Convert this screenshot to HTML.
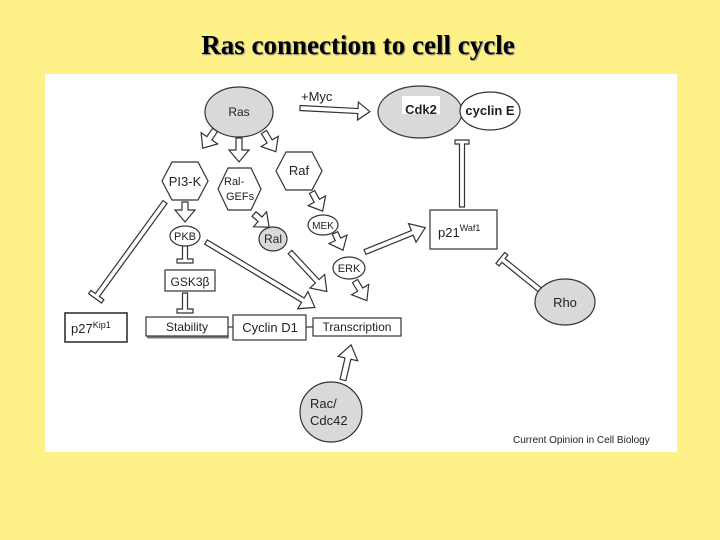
<!DOCTYPE html>
<html><head><meta charset="utf-8"><style>
html,body{margin:0;padding:0;background:#fdf188;}
body{width:720px;height:540px;position:relative;overflow:hidden;font-family:"Liberation Sans",sans-serif;}
h1{position:absolute;left:0;width:716px;top:30px;margin:0;text-align:center;font:bold 27px "Liberation Serif",serif;color:#000;text-shadow:1px 1px 1px #888;}
svg{position:absolute;left:0;top:0;}
text{font-family:"Liberation Sans",sans-serif;fill:#222;}
</style></head><body>
<h1>Ras connection to cell cycle</h1>
<svg width="720" height="540" viewBox="0 0 720 540">
<defs>
<path id="ar" d="M0,-2.5 L-12,-2.5" />
</defs>
<rect x="45" y="74" width="632" height="378" fill="#fff"/>
<g fill="#fff" stroke="#333" stroke-width="1.2">
<!-- arrows: shaft from 0 to L-12, head to L -->
<g transform="translate(300,108) rotate(3)"><path d="M0,-2.5H58V-9L70,0L58,9V2.5H0Z"/></g>
<g transform="translate(215,130) rotate(124)"><path d="M0,-3H10V-10L22,0L10,10V3H0Z"/></g>
<g transform="translate(239,138) rotate(90)"><path d="M0,-3H12V-10L24,0L12,10V3H0Z"/></g>
<g transform="translate(264,132) rotate(59)"><path d="M0,-3H11V-10L23,0L11,10V3H0Z"/></g>
<g transform="translate(185,202) rotate(90)"><path d="M0,-3H8V-10L20,0L8,10V3H0Z"/></g>
<g transform="translate(254,214) rotate(41)"><path d="M0,-3H8V-10L20,0L8,10V3H0Z"/></g>
<g transform="translate(312,192) rotate(61)"><path d="M0,-3H10V-10L22,0L10,10V3H0Z"/></g>
<g transform="translate(335,233) rotate(65)"><path d="M0,-3H7V-10L19,0L7,10V3H0Z"/></g>
<g transform="translate(206,242) rotate(31)"><path d="M0,-2.5H113V-10L127,0L113,10V2.5H0Z"/></g>
<g transform="translate(290,252) rotate(47)"><path d="M0,-2.5H40V-10L54,0L40,10V2.5H0Z"/></g>
<g transform="translate(355,281) rotate(59)"><path d="M0,-3H10V-10L23,0L10,10V3H0Z"/></g>
<g transform="translate(365,252) rotate(-22)"><path d="M0,-2.5H51V-10L65,0L51,10V2.5H0Z"/></g>
<g transform="translate(343,380) rotate(-77)"><path d="M0,-3H22V-10L36,0L22,10V3H0Z"/></g>
<!-- inhibitions -->
<g transform="translate(165,202) rotate(126)"><path d="M0,-2.5H115V-8H119V8H115V2.5H0Z"/></g>
<g transform="translate(185,245) rotate(90)"><path d="M0,-2.5H14V-8H18V8H14V2.5H0Z"/></g>
<g transform="translate(185,293) rotate(90)"><path d="M0,-2.5H16V-8H20V8H16V2.5H0Z"/></g>
<g transform="translate(462,207) rotate(-90)"><path d="M0,-2.5H63V-7H67V7H63V2.5H0Z"/></g>
<g transform="translate(540,290) rotate(-141)"><path d="M0,-2.5H47V-7H51V7H47V2.5H0Z"/></g>
</g>
<g stroke="#333" stroke-width="1.2">
<ellipse cx="239" cy="112" rx="34" ry="25" fill="#d9d9d9"/>
<ellipse cx="420" cy="112" rx="42" ry="26" fill="#d9d9d9"/>
<ellipse cx="490" cy="111" rx="30" ry="19" fill="#fff"/>
<polygon points="162,181 172,162 198,162 208,181 198,200 172,200" fill="#fff"/>
<polygon points="218,189 228,168 251,168 261,189 251,210 228,210" fill="#fff"/>
<polygon points="276,171 286,152 312,152 322,171 312,190 286,190" fill="#fff"/>
<ellipse cx="185" cy="236" rx="15" ry="10" fill="#fff"/>
<ellipse cx="273" cy="239" rx="14" ry="12" fill="#d9d9d9"/>
<ellipse cx="323" cy="225" rx="15" ry="10" fill="#fff"/>
<ellipse cx="349" cy="268" rx="16" ry="11" fill="#fff"/>
<rect x="165" y="270" width="50" height="21" fill="#fff"/>
<rect x="65" y="313" width="62" height="29" fill="#fff" stroke-width="1.6"/>
<rect x="146" y="317" width="82" height="19" fill="#fff"/>
<rect x="233" y="315" width="73" height="25" fill="#fff"/>
<rect x="313" y="318" width="88" height="18" fill="#fff"/>
<line x1="228" y1="327" x2="233" y2="327"/><line x1="306" y1="327" x2="313" y2="327"/>
<rect x="430" y="210" width="67" height="39" fill="#fff"/>
<ellipse cx="565" cy="302" rx="30" ry="23" fill="#d9d9d9"/>
<ellipse cx="331" cy="412" rx="31" ry="30" fill="#d9d9d9"/>
</g>
<line x1="147" y1="337.5" x2="229" y2="337.5" stroke="#777" stroke-width="2"/>
<rect x="402" y="96" width="38" height="18" fill="#fff"/>
<g font-size="13">
<text x="301" y="101">+Myc</text>
<text x="239" y="116" text-anchor="middle" font-size="12">Ras</text>
<text x="421" y="110" text-anchor="middle" font-weight="bold" font-size="13" dy="4">Cdk2</text>
<text x="490" y="115" text-anchor="middle" font-weight="bold">cyclin E</text>
<text x="185" y="186" text-anchor="middle">PI3-K</text>
<text x="224" y="185" font-size="11">Ral-</text>
<text x="226" y="200" font-size="11">GEFs</text>
<text x="299" y="175" text-anchor="middle">Raf</text>
<text x="185" y="240" text-anchor="middle" font-size="11">PKB</text>
<text x="273" y="243" text-anchor="middle" font-size="12">Ral</text>
<text x="323" y="229" text-anchor="middle" font-size="10">MEK</text>
<text x="349" y="272" text-anchor="middle" font-size="11">ERK</text>
<text x="190" y="286" text-anchor="middle" font-size="12">GSK3β</text>
<text x="71" y="333">p27<tspan font-size="9" dy="-5">Kip1</tspan></text>
<text x="187" y="331" text-anchor="middle" font-size="12">Stability</text>
<text x="270" y="332" text-anchor="middle">Cyclin D1</text>
<text x="357" y="331" text-anchor="middle" font-size="12">Transcription</text>
<text x="438" y="237">p21<tspan font-size="9" dy="-6">Waf1</tspan></text>
<text x="565" y="307" text-anchor="middle">Rho</text>
<text x="310" y="408">Rac/</text>
<text x="310" y="425">Cdc42</text>
<text x="513" y="443" font-size="10" fill="#444">Current Opinion in Cell Biology</text>
</g>
</svg>
</body></html>
